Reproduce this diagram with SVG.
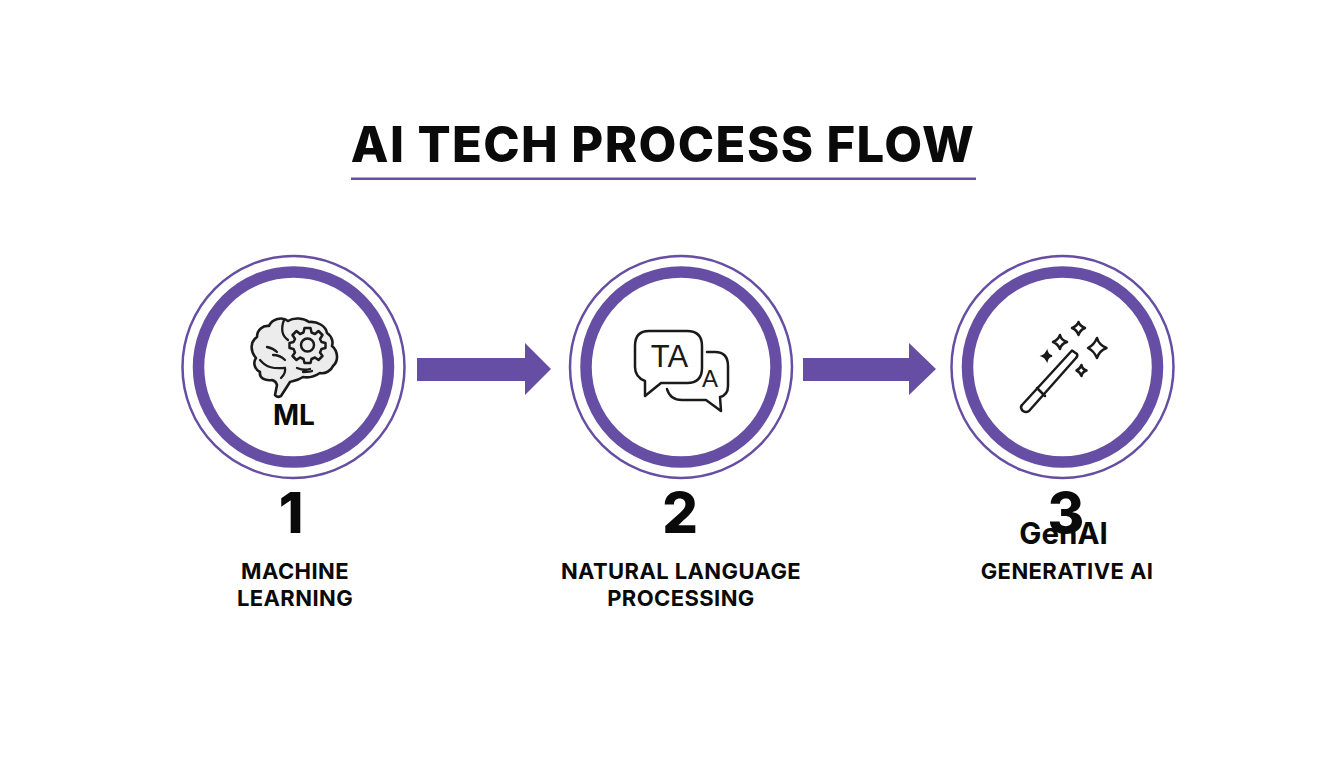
<svg xmlns="http://www.w3.org/2000/svg" width="1344" height="768" viewBox="0 0 1344 768">
<style>
.t{font-family:"Inter","Lato","Liberation Sans",sans-serif;fill:#0a0a0a;text-anchor:middle}
.title{font-size:49px;font-weight:800;letter-spacing:1.4px}
.num{font-size:56px;font-weight:800}
.lab{font-size:22px;font-weight:700;letter-spacing:.4px}
.abbr{font-size:28px;font-weight:700}
.gen{font-size:29.500px;font-weight:700}
.outer{fill:#fff;stroke:#654ea3;stroke-width:2.5}
.inner{fill:#fff;stroke:#654ea3;stroke-width:11.5}
.ic{fill:none;stroke:#1a1a1a;stroke-width:2.5;stroke-linecap:round;stroke-linejoin:round}
.br{fill:#ececec;stroke:#1a1a1a;stroke-width:2.6;stroke-linejoin:round;stroke-linecap:round}
.ict{font-family:"Liberation Sans",sans-serif;fill:#1a1a1a;text-anchor:middle}
</style>
<rect width="1344" height="768" fill="#fff"/>
<g id="title">
<text class="t title" x="663" y="162">AI TECH PROCESS FLOW</text>
<rect x="351" y="177.500" width="625" height="2.500" fill="#654ea3"/>
</g>
<g id="connectors" fill="#654ea3">
<polygon points="417,358 525,358 525,343 551,369 525,395 525,381 417,381"/>
<polygon points="803,358 909,358 909,343 936,369 909,395 909,381 803,381"/>
</g>
<g id="node-1">
<circle class="outer" cx="293.500" cy="367" r="111"/>
<circle class="inner" cx="293.500" cy="367" r="95"/>
<path class="br" d="M272 380 C265 381 259 378 260 372 C254 369 253 362 256 358 C250 351 250 342 257 337 C257 330 263 325 269 326 C272 319 282 316 288 321 C294 317 304 318 309 322 C317 321 326 326 327 333 C333 337 333 343 332 346 C338 351 339 361 333 366 C331 371 325 374 320 373 C314 377 308 378 303 377 C297 381 293 381 290 382 L281 396 Q277 398 275 395 L277 385 Q276 381 272 380 Z"/>
<path class="ic" style="stroke-width:2.3" d="M284 320 C281 328 281 335 288 340 M267 347 C272 348 275 350 277 352 M273 355 C279 355 283 358 285 360 M260 360 C266 367 272 369 285 368 M285 368 C286 372 284 375 281 378 M297 368 C302 370 307 370 310 369 M303 372 C307 372 310 372 312 371"/>
<g transform="translate(307.500 345)">
<path class="ic" d="M-3 -17 L3 -17 L4 -12.500 L7.500 -11 L11 -14 L15 -10 L12.500 -6 L14 -3 L18 -2 L18 3 L14 4 L12.500 7.500 L15 11 L11 15 L7.500 12.500 L4 14 L3 18 L-3 18 L-4 14 L-7.500 12.500 L-11 15 L-15 11 L-12.500 7.500 L-14 4 L-18 3 L-18 -2 L-14 -3 L-12.500 -6 L-15 -10 L-11 -14 L-7.500 -11 L-4 -12.500 Z"/>
<circle class="ic" r="6.500"/>
</g>
<text class="t abbr" x="294" y="425">ML</text>
<text class="t num" x="291" y="533">1</text>
<text class="t lab" x="295" y="579">MACHINE</text>
<text class="t lab" x="295" y="606">LEARNING</text>
</g>
<g id="node-2">
<circle class="outer" cx="681" cy="367" r="111"/>
<circle class="inner" cx="681" cy="367" r="95"/>
<path class="ic" d="M649 331 H687 Q702 331 702 346 V368 Q702 383 687 383 H661 L645 396 L645 381 Q635 377 635 367 V346 Q635 331 649 331 Z"/>
<path class="ic" d="M707 352 H715 Q728 352 728 366 V386 Q728 395 720 397 L721 411 L706 400 H682 Q670 400 667 389"/>
<text class="ict" x="669.500" y="367" font-size="31">TA</text>
<text class="ict" x="710" y="387" font-size="24">A</text>
</g>
<g id="node-2-label">
<text class="t num" x="680" y="533">2</text>
<text class="t lab" x="681" y="579">NATURAL LANGUAGE</text>
<text class="t lab" x="681" y="606">PROCESSING</text>
</g>
<g id="node-3">
<circle class="outer" cx="1062.500" cy="367" r="111"/>
<circle class="inner" cx="1062.500" cy="367" r="95"/>
<path class="ic" d="M1072 350.500 L1077 354 Q1078 356 1076 358 L1029 411 Q1026 413 1023 411 L1022 410 Q1020 407 1022 405 Z M1037 388 L1045 396"/>
<path class="ic" d="M1097 338 Q1099 345 1106.500 348 Q1099 351 1097 358 Q1094 351 1088 348 Q1094 345 1097 338 Z"/>
<path class="ic" d="M1060 335 Q1061 340 1067 342 Q1061 344 1060 349 Q1058 344 1053 342 Q1058 340 1060 335 Z"/>
<path class="ic" d="M1078.500 322 Q1080 326 1085 328 Q1080 330 1078.500 335 Q1077 330 1072 328 Q1077 326 1078.500 322 Z"/>
<path d="M1047 351 Q1048 355 1052 356 Q1048 357 1047 361 Q1045 357 1042 356 Q1045 355 1047 351 Z" fill="#1a1a1a" stroke="#1a1a1a" stroke-width="1.500"/>
<path class="ic" d="M1081.500 365 Q1082 369 1086.500 370.500 Q1082 372 1081.500 376 Q1080 372 1076.500 370.500 Q1080 369 1081.500 365 Z"/>
<text class="t gen" x="1063.500" y="544">GenAI</text>
<text class="t num" x="1066" y="533">3</text>
<text class="t lab" x="1067" y="579">GENERATIVE AI</text>
</g>
</svg>
